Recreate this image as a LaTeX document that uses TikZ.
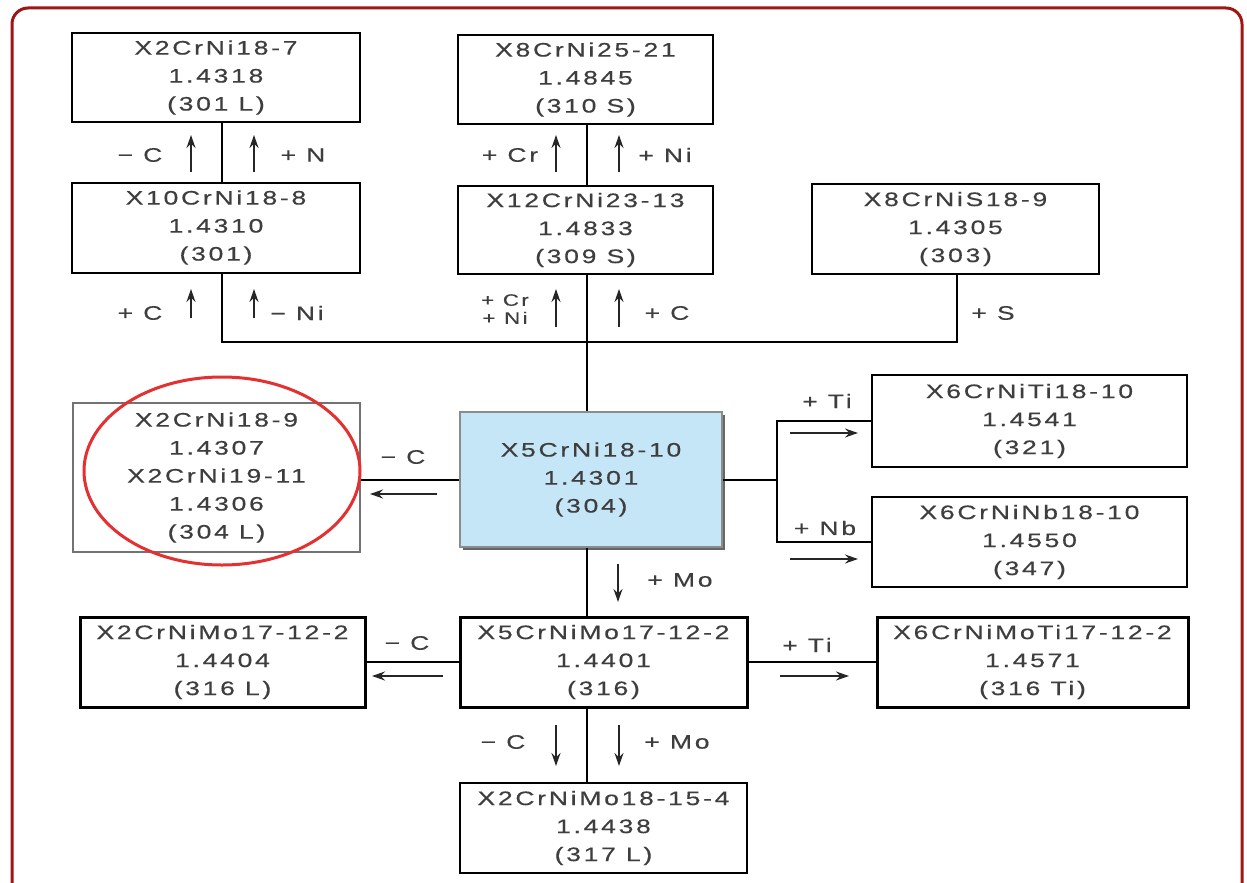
\documentclass[tikz,border=0pt]{standalone}
\usepackage{fontspec}
\setmainfont{Liberation Sans}[LetterSpace=14,FakeStretch=1.36,FakeBold=0.4]
\usetikzlibrary{arrows.meta,shadows}
\definecolor{framered}{RGB}{158,22,22}
\definecolor{ringred}{RGB}{228,48,48}
\definecolor{bluefill}{RGB}{197,230,246}
\definecolor{txt}{RGB}{62,62,62}
\tikzset{
  box/.style={draw=black, line width=2pt, fill=white, align=center, text=txt, inner sep=0pt,
              font=\fontsize{19.5}{28}\selectfont},
  thickbox/.style={box, line width=3pt},
  greybox/.style={box, draw=black!55, line width=1.5pt},
  centrebox/.style={box, draw=black!45, line width=1.2pt, fill=bluefill,
              drop shadow={shadow xshift=3pt, shadow yshift=-3pt, fill=black!60, opacity=1}},
  conn/.style={draw=black, line width=2pt},
  ind/.style={draw=black!85, line width=1.6pt, -{Stealth[length=13pt,width=9pt]}},
  lab/.style={text=txt, inner sep=0pt, align=center, font=\fontsize{19.5}{17}\selectfont},
  labstack/.style={lab, font=\fontsize{16.5}{18}\selectfont},
}
\begin{document}
\begin{tikzpicture}[x=1pt,y=-1pt]
\useasboundingbox (0,0) rectangle (1247,883);
\begin{scope}
  \clip (0,0) rectangle (1247,883);
  \draw[framered, line width=3pt, rounded corners=16pt] (12,8) rectangle (1242,905);
\end{scope}

% boxes
\node[box, minimum width=288pt, minimum height=89pt] (A) at (216,77.5) {X2CrNi18-7\\1.4318\\(301 L)};
\node[box, minimum width=288pt, minimum height=90pt] (B) at (216,227.5) {X10CrNi18-8\\1.4310\\(301)};
\node[box, minimum width=255pt, minimum height=89pt] (C) at (585.5,79.5) {X8CrNi25-21\\1.4845\\(310 S)};
\node[box, minimum width=255pt, minimum height=88pt] (D) at (585.5,230) {X12CrNi23-13\\1.4833\\(309 S)};
\node[box, minimum width=287pt, minimum height=90pt] (E) at (955.5,229) {X8CrNiS18-9\\1.4305\\(303)};
\node[centrebox, minimum width=262pt, minimum height=135pt] (F) at (591,479.5) {X5CrNi18-10\\1.4301\\(304)};
\node[greybox, minimum width=287pt, minimum height=149pt] (H) at (216.5,477.5) {X2CrNi18-9\\1.4307\\X2CrNi19-11\\1.4306\\(304 L)};
\node[box, line width=2.5pt, minimum width=315pt, minimum height=92pt] (I) at (1029.5,421) {X6CrNiTi18-10\\1.4541\\(321)};
\node[box, minimum width=315pt, minimum height=90pt] (J) at (1029.5,542) {X6CrNiNb18-10\\1.4550\\(347)};
\node[thickbox, minimum width=285pt, minimum height=90pt] (K) at (222.5,662) {X2CrNiMo17-12-2\\1.4404\\(316 L)};
\node[thickbox, minimum width=287pt, minimum height=90pt] (G) at (603.5,662) {X5CrNiMo17-12-2\\1.4401\\(316)};
\node[thickbox, minimum width=311pt, minimum height=90pt] (L) at (1032.5,662) {X6CrNiMoTi17-12-2\\1.4571\\(316 Ti)};
\node[box, minimum width=287pt, minimum height=90pt] (M) at (603.5,828) {X2CrNiMo18-15-4\\1.4438\\(317 L)};

% connectors
\coordinate (busL) at (222,342);
\coordinate (busR) at (957,342);
\coordinate (fork) at (777,479.5);
\draw[conn] ([xshift=6pt]A.south) -- ([xshift=6pt]B.north);
\draw[conn] ([xshift=6pt]B.south) -- (busL) -- (busR) -- ([xshift=1.5pt]E.south);
\draw[conn] ([xshift=1.5pt]C.south) -- ([xshift=1.5pt]D.north);
\draw[conn] ([xshift=1.5pt]D.south) -- ([xshift=1.5pt]D.south |- F.north);
\draw[conn] ([xshift=-4pt]F.south) -- ([xshift=-4pt]F.south |- G.north);
\draw[conn] ([xshift=-16.5pt]G.south) -- ([xshift=-16.5pt]M.north);
\draw[conn] (F.west) -- (F.west -| H.east);
\draw[conn] (F.east) -- (fork);
\draw[conn] (I.west) -- (I.west -| fork) -- (J.west -| fork) -- (J.west);
\draw[conn] (G.west) -- (K.east);
\draw[conn] (G.east) -- (L.west);

% highlight ring
\draw[ringred, line width=3pt] (222,471) ellipse [x radius=138pt, y radius=94pt];

% indicator arrows
\draw[ind] (191,172) -- (191,135);
\draw[ind] (254,172) -- (254,135);
\draw[ind] (191,318) -- (191,289);
\draw[ind] (254,318) -- (254,289);
\draw[ind] (556,172) -- (556,135);
\draw[ind] (619,172) -- (619,135);
\draw[ind] (556,327) -- (556,289);
\draw[ind] (619,327) -- (619,289);
\draw[ind] (437,494) -- (370,494);
\draw[ind] (618,564) -- (618,602);
\draw[ind] (790,433) -- (858,433);
\draw[ind] (790,559) -- (858,559);
\draw[ind] (443,676) -- (372,676);
\draw[ind] (780,676) -- (849,676);
\draw[ind] (556,725) -- (556,766);
\draw[ind] (619,725) -- (619,766);

% labels
\node[lab] (l1) at (140,155) {− C};
\node[lab] (l2) at (303,155) {+ N};
\node[lab] (l3) at (140,313) {+ C};
\node[lab] (l4) at (297,313) {− Ni};
\node[lab] (l5) at (510,155) {+ Cr};
\node[lab] (l6) at (665,155) {+ Ni};
\node[labstack] (l7) at (505,309) {+ Cr\\+ Ni};
\node[lab] (l8) at (667,313) {+ C};
\node[lab] (l9) at (993,313) {+ S};
\node[lab] (l10) at (403,457) {− C};
\node[lab] (l11) at (680,580) {+ Mo};
\node[lab] (l12) at (827,401) {+ Ti};
\node[lab] (l13) at (825,528) {+ Nb};
\node[lab] (l14) at (407,643) {− C};
\node[lab] (l15) at (807,645) {+ Ti};
\node[lab] (l16) at (503,742) {− C};
\node[lab] (l17) at (677,742) {+ Mo};
\end{tikzpicture}
\end{document}
